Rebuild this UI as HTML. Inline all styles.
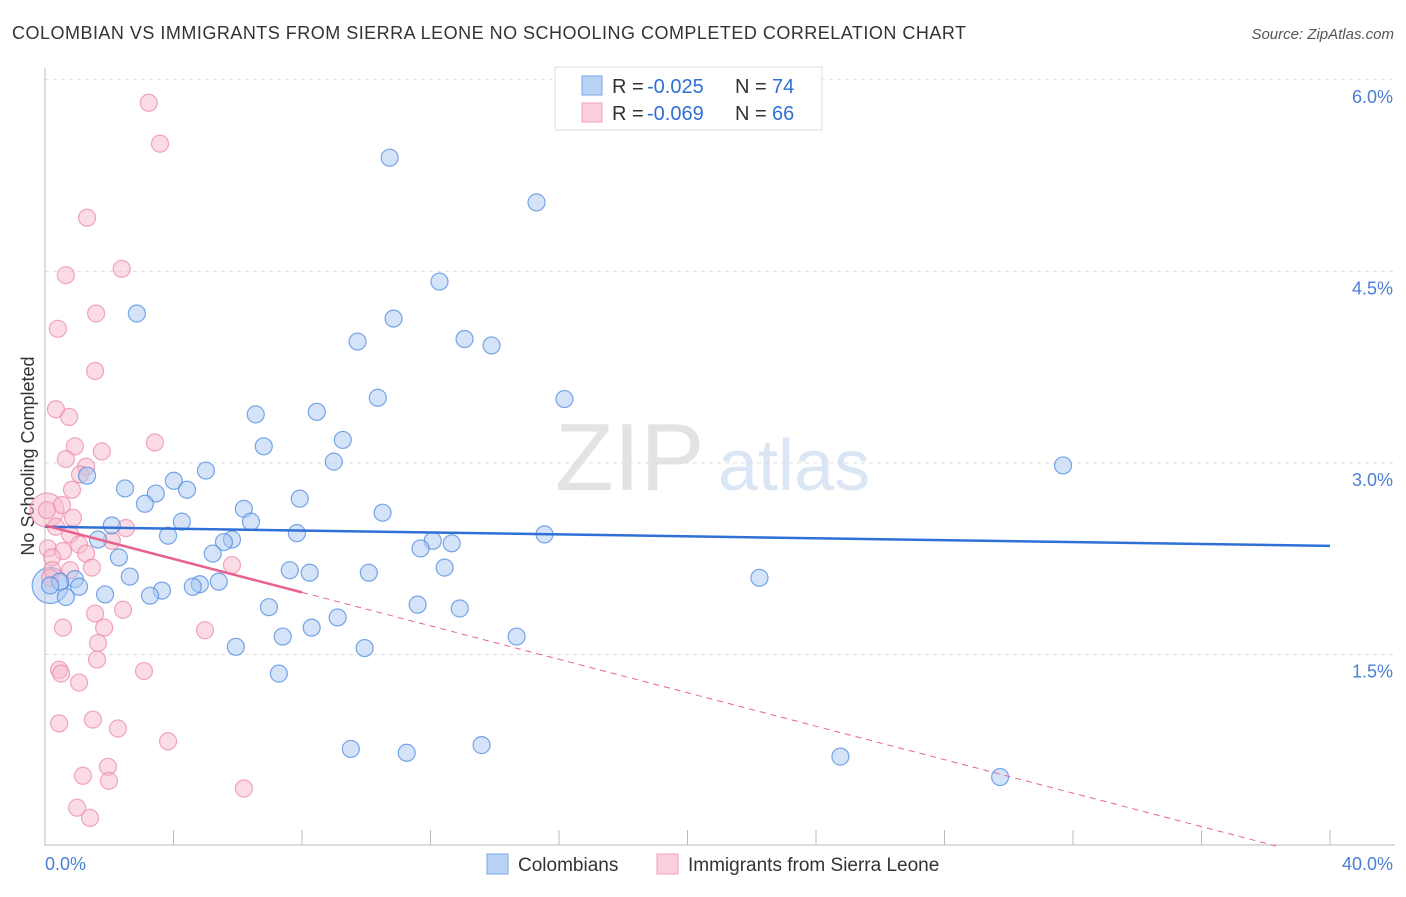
<!DOCTYPE html>
<html><head><meta charset="utf-8"><style>
body{margin:0;background:#fff;font-family:"Liberation Sans",sans-serif}
svg text{font-family:"Liberation Sans",sans-serif}
</style></head><body>
<svg id="c" width="1406" height="892">
<text x="12" y="39" font-size="18" fill="#333" textLength="954" lengthAdjust="spacing">COLOMBIAN VS IMMIGRANTS FROM SIERRA LEONE NO SCHOOLING COMPLETED CORRELATION CHART</text>
<text x="1394" y="39" font-size="15" fill="#555" font-style="italic" text-anchor="end">Source: ZipAtlas.com</text>
<text x="555" y="490" font-size="96" fill="#e3e3e3" font-family="Liberation Serif">ZIP</text>
<text x="718" y="490" font-size="72" fill="#dbe6f5">atlas</text>
<text transform="translate(34,456) rotate(-90)" font-size="18" fill="#333" text-anchor="middle">No Schooling Completed</text>
<g id="grid"></g><g id="pts"></g><g id="trend"></g>
<g>
<rect x="555" y="67" width="267" height="63" fill="#fff" stroke="#ddd"/>
<rect x="582" y="76" width="20" height="19" fill="#b9d3f5" stroke="#7aa6e6"/>
<rect x="582" y="103" width="20" height="19" fill="#fbcfdc" stroke="#f0a0b8"/>
<text x="612" y="93" font-size="20" fill="#333">R =</text>
<text x="647" y="93" font-size="20" fill="#2f6fd6">-0.025</text>
<text x="735" y="93" font-size="20" fill="#333">N =</text>
<text x="772" y="93" font-size="20" fill="#2f6fd6">74</text>
<text x="612" y="120" font-size="20" fill="#333">R =</text>
<text x="647" y="120" font-size="20" fill="#2f6fd6">-0.069</text>
<text x="735" y="120" font-size="20" fill="#333">N =</text>
<text x="772" y="120" font-size="20" fill="#2f6fd6">66</text>
</g>
<g>
<rect x="487" y="854" width="21" height="20" fill="#b9d3f5" stroke="#7aa6e6"/>
<text x="518" y="871" font-size="19" fill="#333">Colombians</text>
<rect x="657" y="854" width="21" height="20" fill="#fbcfdc" stroke="#f0a0b8"/>
<text x="688" y="871" font-size="19" fill="#333">Immigrants from Sierra Leone</text>
</g>
</svg>
<script>
const yTicks=[1.5,3.0,4.5,6.0];
const xTickLabels=["0.0%","40.0%"];
const blueX=[10.73,15.3,12.28,2.86,10.85,9.73,13.06,13.9,10.36,16.17,6.56,8.46,9.27,6.81,8.99,31.69,5.01,1.31,4.01,2.49,4.42,3.45,3.11,7.93,6.19,10.51,4.26,6.41,2.08,3.83,7.84,15.55,1.65,5.82,5.57,12.07,12.66,11.69,5.22,2.30,7.62,12.44,8.24,10.08,2.64,22.24,0.93,0.47,0.16,5.41,4.82,1.06,4.60,3.64,1.87,3.27,0.65,6.97,11.6,12.91,9.11,8.3,7.40,14.68,5.94,9.95,7.28,9.52,11.26,13.59,24.76,29.73];
const blueY=[5.39,5.04,4.42,4.17,4.13,3.95,3.97,3.92,3.51,3.50,3.38,3.40,3.18,3.13,3.01,2.98,2.94,2.90,2.86,2.80,2.79,2.76,2.68,2.72,2.64,2.61,2.54,2.54,2.51,2.43,2.45,2.44,2.40,2.40,2.38,2.39,2.37,2.33,2.29,2.26,2.16,2.18,2.14,2.14,2.11,2.10,2.09,2.07,2.04,2.07,2.05,2.03,2.03,2.00,1.97,1.96,1.95,1.87,1.89,1.86,1.79,1.71,1.64,1.64,1.56,1.55,1.35,0.76,0.73,0.79,0.70,0.54];
const pinkX=[3.23,3.58,1.31,2.39,0.65,1.59,0.40,1.56,0.34,0.75,3.42,0.93,1.77,0.65,1.28,1.09,0.84,0.53,0.06,0.87,0.34,2.52,0.78,2.08,1.06,0.09,1.28,0.56,0.22,5.82,1.46,0.22,0.78,0.16,1.56,2.43,1.84,4.98,0.56,1.65,1.62,3.08,0.44,0.50,1.06,0.44,1.49,2.27,3.83,1.96,1.18,1.99,6.19,1.00,1.40];
const pinkY=[5.82,5.50,4.92,4.52,4.47,4.17,4.05,3.72,3.42,3.36,3.16,3.13,3.09,3.03,2.97,2.91,2.79,2.67,2.63,2.57,2.50,2.49,2.44,2.39,2.36,2.33,2.29,2.31,2.26,2.20,2.18,2.16,2.16,2.10,1.82,1.85,1.71,1.69,1.71,1.59,1.46,1.37,1.38,1.35,1.28,0.96,0.99,0.92,0.82,0.62,0.55,0.51,0.45,0.30,0.22];
const bigBlue=[0.16,2.04], bigPink=[0.06,2.63];
const blueTrend=[2.50,2.35];
const pinkTrend=[2.51,-0.0655];
const NS="http://www.w3.org/2000/svg";
const X=v=>45+v/40*1285, Y=v=>846-v*127.7;
function mk(t,a,p){const e=document.createElementNS(NS,t);for(const k in a)e.setAttribute(k,a[k]);p.appendChild(e);return e;}
const g=document.getElementById('grid');
yTicks.forEach(t=>{
 const l=mk('line',{x1:45,x2:1395,y1:Y(t),y2:Y(t),stroke:'#ddd','stroke-dasharray':'4,4'},g);
 
 
 const tx=mk('text',{x:1393,y:Y(t)+23,'font-size':18,fill:'#4a7fd4','text-anchor':'end'},g);
 tx.textContent=t.toFixed(1)+'%';
 
 
});
const ax=mk('line',{x1:45,x2:45,y1:68,y2:846,stroke:'#bbb'},g);


const xa=mk('line',{x1:45,x2:1395,y1:845,y2:845,stroke:'#bbb'},g);


for(let i=0;i<=40;i+=4){const t=mk('line',{x1:X(i),x2:X(i),y1:830,y2:845,stroke:'#bbb'},g);
 
 }
[[0,45,'start'],[40,1393,'end']].forEach((d,i)=>{const t=mk('text',{x:d[1],y:870,'font-size':18,fill:'#4a7fd4','text-anchor':d[2]},g);t.textContent=xTickLabels[i];
 
 });
const p=document.getElementById('pts');
function dot(x,y,r,c,s,name){const e=mk('circle',{cx:X(x),cy:Y(y),r:r,fill:c,'fill-opacity':0.5,stroke:s,'stroke-opacity':0.75,'stroke-width':1.2},p);
 
 }
dot(bigPink[0],bigPink[1],17,'#f7b9cb','#ec8aa8','sierra-leone-point');
dot(bigBlue[0],bigBlue[1],18,'#a9c8f1','#4f8ae0','colombian-point');
pinkX.forEach((x,i)=>dot(x,pinkY[i],8.5,'#f7b9cb','#ec8aa8','sierra-leone-point'));
blueX.forEach((x,i)=>dot(x,blueY[i],8.5,'#a9c8f1','#4f8ae0','colombian-point'));
const tr=document.getElementById('trend');
const bl=mk('line',{x1:X(0),y1:Y(blueTrend[0]),x2:X(40),y2:Y(blueTrend[1]),stroke:'#2f6fd6','stroke-width':2.5},tr);


const pf=x=>pinkTrend[0]+pinkTrend[1]*x;
const ps=mk('line',{x1:X(0),y1:Y(pf(0)),x2:X(8),y2:Y(pf(8)),stroke:'#e8628f','stroke-width':2.5},tr);


const xe=-pinkTrend[0]/pinkTrend[1];
const pd=mk('line',{x1:X(8),y1:Y(pf(8)),x2:X(Math.min(xe,40)),y2:Y(pf(Math.min(xe,40))),stroke:'#e8628f','stroke-width':1,'stroke-dasharray':'6,5'},tr);


</script>
</body></html>
